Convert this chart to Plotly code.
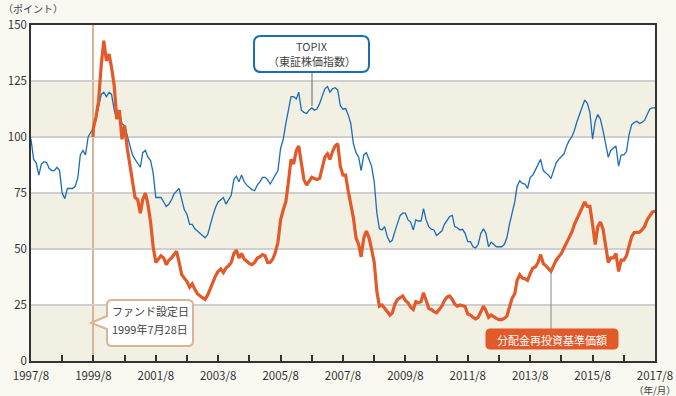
import pandas as pd
import plotly.graph_objects as go

# ---------------- data ----------------
start_month = "1997-08-01"
fund_start = "1999-07-28"

topix = [
    99, 90, 88.5, 83, 88, 89, 88.5, 86, 85, 85, 86.5, 85, 75, 72.5, 77, 77, 77, 78, 82, 92,
    94, 92, 100, 102, 104, 108, 113, 119, 120, 118, 120, 119, 112, 108, 111, 106, 105, 101, 97, 92,
    90, 88, 86.5, 93, 94, 91, 89.5, 84, 73, 73, 73, 71, 69, 70, 72, 74.5, 76, 77, 72, 67.5,
    65.5, 61, 61, 59, 58, 57, 56, 55, 56.5, 61, 65, 68.5, 71, 72, 73, 70, 72, 74, 81, 82.5,
    80, 83, 80, 78.5, 77.5, 76.5, 76, 78.5, 80, 82, 82, 81, 79, 81, 83.5, 85, 95, 99, 106, 112,
    118, 118, 117, 120, 112, 111, 110.5, 112, 113, 112, 112.5, 115, 118, 121.5, 122.5, 120, 121.5, 122, 121, 114,
    112.4, 112.7, 110, 106, 97, 93, 91, 85, 92, 93, 90, 87, 80, 66, 59, 58.5, 60, 55.5, 53, 54,
    58, 62, 65, 66, 66, 63, 62, 58.5, 63, 62.5, 62.5, 68, 63, 60, 58.8, 58.5, 56, 57, 58, 61,
    63, 64.5, 65, 60, 59.5, 58.5, 58.8, 57, 53.3, 53.3, 51, 50.5, 52, 57, 59, 57, 51, 53, 52, 51,
    51, 51, 52, 55, 61, 66, 71, 78, 80.5, 79.3, 79, 77, 82, 83, 85.5, 88, 90, 85, 84, 83,
    81.5, 85, 88.5, 90, 91.5, 92.5, 96, 98.5, 100, 103, 107, 110, 113, 116.5, 115, 111, 99, 107, 110, 108,
    103, 97, 91, 94, 95, 96, 87, 92, 92, 93.5, 101, 105.5, 106.5, 107, 106, 106.5, 107.5, 110, 112.5, 113,
    113,
]

fund = [
    100, 104, 109, 116, 132, 143, 134, 137, 131, 123, 108, 112, 99, 105, 95, 87, 80,
    73, 72, 66, 72, 75, 70, 62, 51, 44, 45.5, 47, 46, 43, 45, 46, 47.5, 49, 44, 38.5,
    37, 35.5, 33, 34.5, 32, 30, 29, 28, 27.5, 29.5, 32.5, 35, 38, 40, 41, 39.5, 41.5, 42.5,
    44, 48, 49.5, 46, 48, 45.5, 44.5, 43.5, 43, 44, 46, 46.5, 47.5, 47, 44, 44, 45.5, 48.5,
    53, 63, 67.5, 71, 80, 90, 88, 94, 96, 88, 81, 78.5, 80, 82, 81.5, 81, 81.5, 87,
    91, 92.5, 90, 93.5, 96, 97, 87, 83, 83, 76, 70, 64, 55, 52, 46.5, 55, 58, 55,
    50, 44, 31, 24.5, 25, 23.5, 21.5, 20.5, 21.5, 25.5, 27.5, 28.5, 29, 27, 26, 24, 23, 26.5,
    26, 26.5, 30.5, 27, 23.5, 23, 22, 21.5, 23, 24.5, 27, 28.5, 29, 27.5, 25.5, 24.5, 25, 24.5,
    24.3, 21, 20.5, 19.5, 18.8, 19.5, 22, 24.5, 22.5, 19.5, 20.5, 19.5, 19, 18.5, 18.5, 19, 20, 24,
    28, 30, 36, 38.5, 37, 36.7, 36, 39, 41.5, 42, 44, 47.5, 43.5, 42.5, 41.5, 40, 42.5, 45,
    46.5, 48, 50.5, 53, 55, 57.5, 61, 63.5, 66, 69, 71, 69, 69, 61, 52, 60, 62, 59,
    51, 44, 46, 46, 48, 40, 45, 45, 47, 51, 55.5, 57.3, 57.5, 57.5, 58.5, 60, 63, 65,
    66.5, 67,
]

tick_years = list(range(1997, 2018))
tick_labels = [f"{y}/8" if (y - 1997) % 2 == 0 else "" for y in tick_years]
y_ticks = [0, 25, 50, 75, 100, 125, 150]

topix_dates = pd.date_range(start_month, periods=len(topix), freq="MS")
fund_dates = [pd.Timestamp(fund_start)] + list(
    pd.date_range("1999-08-01", periods=len(fund) - 1, freq="MS"))

# ---------------- styling ----------------
FONT = "Noto Sans CJK JP, Noto Sans, sans-serif"
W, H = 676, 396
L, R, T, B = 31, 21, 25, 35
PW, PH = W - L - R, H - T - B
BLUE = "#1b6db6"
ORANGE = "#e2592a"
TAN = "#d9b497"
BAND = "#f2efe3"
PAGE = "#f9f8f1"


def px(x):
    return (x - L) / PW


def py(y):
    return (H - B - y) / PH


def rounded(x0, y0, x1, y1, r, tail=None):
    # pixel coords -> paper path with rounded corners
    def P(x, y):
        return f"{px(x):.5f},{py(y):.5f}"
    d = f"M {P(x0 + r, y0)} L {P(x1 - r, y0)} Q {P(x1, y0)} {P(x1, y0 + r)} "
    d += f"L {P(x1, y1 - r)} Q {P(x1, y1)} {P(x1 - r, y1)} L {P(x0 + r, y1)} "
    d += f"Q {P(x0, y1)} {P(x0, y1 - r)} "
    if tail:
        (ty0, tx, ty, ty1) = tail
        d += f"L {P(x0, ty1)} L {P(tx, ty)} L {P(x0, ty0)} "
    d += f"L {P(x0, y0 + r)} Q {P(x0, y0)} {P(x0 + r, y0)} Z"
    return d


fig = go.Figure()

fig.add_trace(go.Scatter(x=topix_dates, y=topix, mode="lines",
                         line=dict(color=BLUE, width=1.3), name="TOPIX",
                         hoverinfo="skip"))
fig.add_trace(go.Scatter(x=fund_dates, y=fund, mode="lines",
                         line=dict(color=ORANGE, width=3.2), name="fund",
                         hoverinfo="skip"))

shapes = []
for lo, hi in [(0, 25), (50, 75), (100, 125)]:
    shapes.append(dict(type="rect", xref="paper", yref="y", x0=0, x1=1, y0=lo, y1=hi,
                       fillcolor=BAND, line=dict(width=0), layer="below"))
shapes.append(dict(type="line", xref="x", yref="paper", x0=fund_start, x1=fund_start,
                   y0=0, y1=1, line=dict(color=TAN, width=2), layer="below"))
# connectors
shapes.append(dict(type="line", xref="paper", yref="paper", x0=px(312), x1=px(312),
                   y0=py(72), y1=py(106), line=dict(color="#666666", width=1)))
shapes.append(dict(type="line", xref="paper", yref="paper", x0=px(551), x1=px(551),
                   y0=py(271), y1=py(329), line=dict(color="#888888", width=1)))
# TOPIX box
shapes.append(dict(type="path", xref="paper", yref="paper",
                   path=rounded(254, 36, 369, 72, 7), fillcolor="white",
                   line=dict(color=BLUE, width=2)))
# fund start callout
shapes.append(dict(type="path", xref="paper", yref="paper",
                   path=rounded(107, 300, 193, 346, 5, tail=(316, 91, 323, 329)),
                   fillcolor="white", line=dict(color=TAN, width=2)))
# fund label
shapes.append(dict(type="path", xref="paper", yref="paper",
                   path=rounded(486, 329, 618, 349, 4), fillcolor=ORANGE,
                   line=dict(color=ORANGE, width=1)))

ann = []
def text(x, y, s, size=11, color="#444444", xa="center"):
    ann.append(dict(x=px(x), y=py(y), xref="paper", yref="paper", text=s, showarrow=False,
                    xanchor=xa, yanchor="middle", font=dict(size=size, color=color, family=FONT)))

text(311.5, 46, "TOPIX")
text(311.5, 61, "（東証株価指数）")
text(150, 311, "ファンド設定日")
text(150, 329, "1999年7月28日")
text(552, 339.5, "分配金再投資基準価額", color="white")
text(1, 9, "（ポイント）", size=10, xa="left")
text(655, 389.5, "（年/月）", size=9.5)

fig.update_layout(
    width=W, height=H, margin=dict(l=L, r=R, t=T, b=B),
    paper_bgcolor=PAGE, plot_bgcolor="white", showlegend=False,
    shapes=shapes, annotations=ann,
    font=dict(family=FONT, size=11, color="#333333"),
    xaxis=dict(type="date", range=[topix_dates[0], topix_dates[-1]], automargin=False,
               tickvals=[f"{y}-08-01" for y in tick_years], ticktext=tick_labels,
               ticks="inside", ticklen=6, tickwidth=1.5, tickcolor="#333333",
               ticklabelstandoff=3,
               showgrid=False, showline=True, linecolor="#333333", linewidth=1.5,
               mirror=True, zeroline=False, tickfont=dict(size=11.5, color="#333333")),
    yaxis=dict(range=[0, 150], tickvals=y_ticks, ticks="", showgrid=True, automargin=False,
               gridcolor="#cfcfcf", gridwidth=1.5, showline=True, linecolor="#333333",
               linewidth=1.5, mirror=True, zeroline=False,
               tickfont=dict(size=11.5, color="#333333")),
)

fig.write_html("out.html", config={"displayModeBar": False},
               post_script="document.body.style.margin='0px';document.body.style.background='" + PAGE + "';")
